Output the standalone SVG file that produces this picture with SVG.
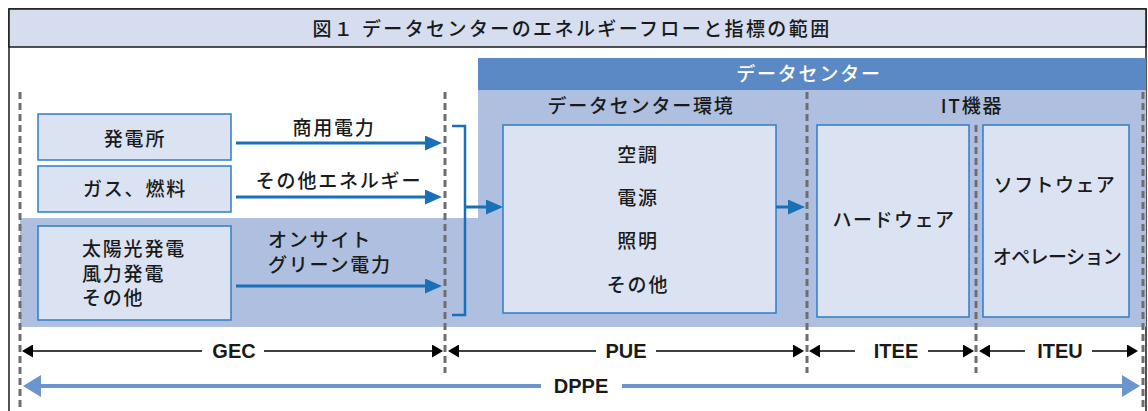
<svg xmlns="http://www.w3.org/2000/svg" width="1148" height="411" viewBox="0 0 1148 411">
<style>
.t{font-family:"Noto Sans CJK JP","Noto Sans",sans-serif;font-size:19px;font-weight:500;letter-spacing:1.8px;fill:#1a1a1a}
.c{text-anchor:middle}
.lat{font-family:"Liberation Sans",Arial,sans-serif;font-size:20px;font-weight:bold;fill:#1a1a1a;text-anchor:middle}
.box{fill:#dbe3f3;stroke:#2f7dc4;stroke-width:1.5}
.dash{stroke:#6e6e6e;stroke-width:3;stroke-dasharray:7 4;fill:none}
.flow{stroke:#1a6fb9;stroke-width:3;fill:none}
.dim{stroke:#000;stroke-width:1.4;fill:none}
.dppe{stroke:#6b95cf;stroke-width:4;fill:none}
</style>
<defs>
<marker id="ah" markerUnits="userSpaceOnUse" markerWidth="17" markerHeight="15" refX="7" refY="7.5" orient="auto"><path d="M0,0 L17,7.5 L0,15 z" fill="#1a6fb9"/></marker>
<marker id="dh" markerUnits="userSpaceOnUse" markerWidth="11" markerHeight="13" refX="6" refY="6.5" orient="auto"><path d="M0,0 L11,6.5 L0,13 z" fill="#000"/></marker>
<marker id="ph" markerUnits="userSpaceOnUse" markerWidth="18" markerHeight="22" refX="8" refY="11" orient="auto"><path d="M0,0 L18,11 L0,22 z" fill="#6b95cf"/></marker>
</defs>

<g id="frame">
<rect x="9" y="9" width="1137" height="420" fill="#fff" stroke="#1a1a1a" stroke-width="1.5"/>
<rect x="9" y="9" width="1137" height="38" fill="#d5ddef" stroke="#1a1a1a" stroke-width="1.5"/>
<text class="t c" x="572" y="36" style="letter-spacing:2.4px">図１ データセンターのエネルギーフローと指標の範囲</text>
</g>

<g id="bands">
<path d="M20,218 H478 V90 H1146 V327 H20 Z" fill="#aebfe0"/>
<rect x="478" y="58" width="668" height="32" fill="#5b89c6"/>
<text class="t c" x="809" y="81" style="fill:#fff">データセンター</text>
<text class="t c" x="641" y="113">データセンター環境</text>
<text class="t c" x="972" y="113">IT機器</text>
</g>

<g id="dashes">
<line class="dash" x1="20" y1="92" x2="20" y2="411"/>
<line class="dash" x1="445" y1="92" x2="445" y2="373"/>
<line class="dash" x1="807" y1="92" x2="807" y2="373"/>
<line class="dash" x1="976" y1="125" x2="976" y2="373"/>
<line class="dash" x1="1143" y1="92" x2="1143" y2="411"/>
</g>

<g id="n-power">
<rect class="box" x="38" y="114" width="193" height="46"/>
<text class="t c" x="135" y="146">発電所</text>
</g>
<g id="n-gas">
<rect class="box" x="38" y="166" width="193" height="46"/>
<text class="t c" x="135" y="196">ガス、燃料</text>
</g>
<g id="n-onsite">
<rect class="box" x="38" y="226" width="193" height="94"/>
<text class="t" x="82" y="256">太陽光発電</text>
<text class="t" x="82" y="281">風力発電</text>
<text class="t" x="82" y="305">その他</text>
</g>
<g id="n-facility">
<rect class="box" x="503" y="125" width="273" height="188"/>
<text class="t c" x="638" y="162">空調</text>
<text class="t c" x="638" y="205">電源</text>
<text class="t c" x="638" y="248">照明</text>
<text class="t c" x="638" y="292">その他</text>
</g>
<g id="n-hardware">
<rect class="box" x="817" y="125" width="152" height="192"/>
<text class="t c" x="894" y="227" style="letter-spacing:1.5px">ハードウェア</text>
</g>
<g id="n-software">
<rect class="box" x="983" y="125" width="146" height="192"/>
<text class="t c" x="1055" y="192" style="letter-spacing:1.4px">ソフトウェア</text>
<text class="t c" x="1057" y="264" style="letter-spacing:-0.6px">オペレーション</text>
</g>

<g id="connectors">
<line class="flow" x1="236" y1="143" x2="432" y2="143" marker-end="url(#ah)"/>
<line class="flow" x1="236" y1="197" x2="432" y2="197" marker-end="url(#ah)"/>
<line class="flow" x1="236" y1="286" x2="432" y2="286" marker-end="url(#ah)"/>
<path class="flow" d="M452,126 H465 V315 H452" style="stroke-width:2.5"/>
<line class="flow" x1="465" y1="207" x2="493" y2="207" marker-end="url(#ah)"/>
<line class="flow" x1="776" y1="207" x2="795" y2="207" marker-end="url(#ah)"/>
<text class="t c" x="334" y="135">商用電力</text>
<text class="t c" x="339" y="188">その他エネルギー</text>
<text class="t" x="268" y="247">オンサイト</text>
<text class="t" x="268" y="272">グリーン電力</text>
</g>

<g id="metrics">
<line class="dim" x1="202" y1="351" x2="27" y2="351" marker-end="url(#dh)"/>
<line class="dim" x1="264" y1="351" x2="438" y2="351" marker-end="url(#dh)"/>
<text class="lat" x="234" y="358">GEC</text>
<line class="dim" x1="596" y1="351" x2="453" y2="351" marker-end="url(#dh)"/>
<line class="dim" x1="656" y1="351" x2="799" y2="351" marker-end="url(#dh)"/>
<text class="lat" x="626" y="358">PUE</text>
<line class="dim" x1="855" y1="351" x2="814" y2="351" marker-end="url(#dh)"/>
<line class="dim" x1="928" y1="351" x2="969" y2="351" marker-end="url(#dh)"/>
<text class="lat" x="896" y="358">ITEE</text>
<line class="dim" x1="1025" y1="351" x2="984" y2="351" marker-end="url(#dh)"/>
<line class="dim" x1="1092" y1="351" x2="1133" y2="351" marker-end="url(#dh)"/>
<text class="lat" x="1060" y="358">ITEU</text>
<line class="dppe" x1="541" y1="386" x2="33" y2="386" marker-end="url(#ph)"/>
<line class="dppe" x1="622" y1="386" x2="1130" y2="386" marker-end="url(#ph)"/>
<text class="lat" x="581" y="393">DPPE</text>
</g>
</svg>
